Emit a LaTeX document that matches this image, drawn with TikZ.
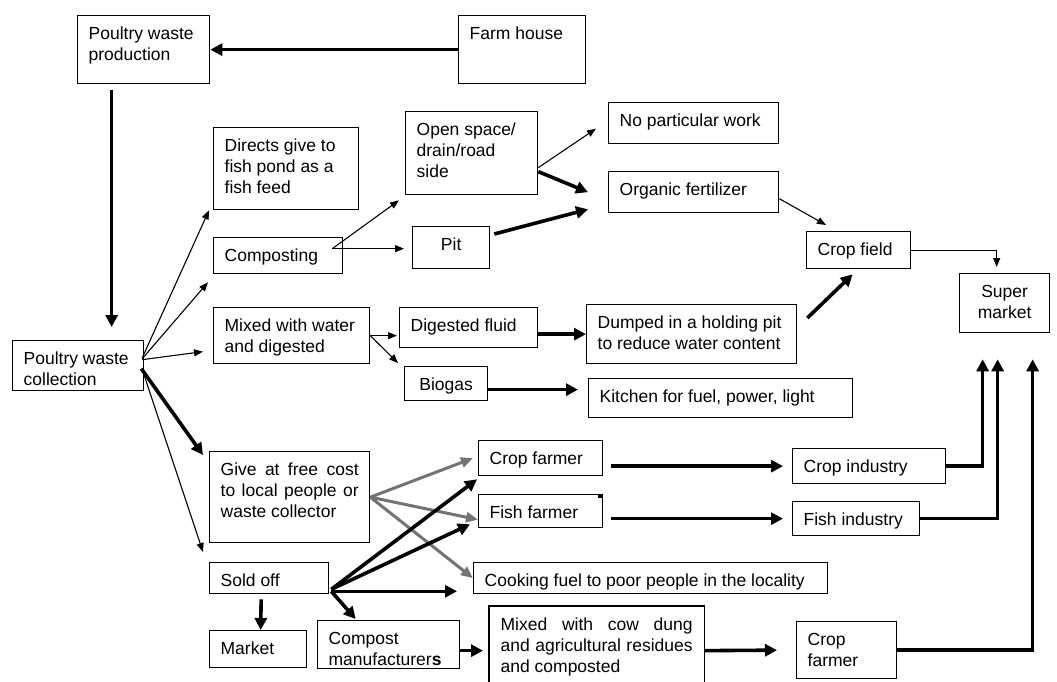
\documentclass[tikz,border=0pt]{standalone}
\usepackage{fontspec}
\setmainfont{Liberation Sans}
\usetikzlibrary{arrows.meta}
\newcommand{\bt}[3]{\parbox[t][#2][t]{#1}{\rule{0pt}{16.5pt}#3}}
\newcommand{\bc}[3]{\parbox[t][#2][t]{#1}{\centering\rule{0pt}{16.5pt}#3}}
\begin{document}
\begin{tikzpicture}[x=1pt,y=-1pt,
  box/.style={draw,line width=1.3pt,anchor=north west,inner xsep=11pt,inner ysep=7pt,font=\fontsize{17.5}{21}\selectfont},
  arr/.style={line width=1.1pt,-{Triangle[length=9pt,width=7pt]}},
  barr/.style={line width=3.6pt,-{Triangle[length=12pt,width=12pt]}},
  garr/.style={line width=3pt,draw=black!55,-{Triangle[length=12pt,width=10pt]}}]
\useasboundingbox (0,0) rectangle (1057,682);
% boxes
\node[box] (pwp) at (77,15) {\bt{110pt}{54pt}{Poultry waste\\production}};
\node[box] (farm) at (458,15) {\bt{105pt}{54pt}{Farm house}};
\node[box] (pwc) at (12,340) {\bt{109pt}{36pt}{Poultry waste\\collection}};
\node[box] (directs) at (213,127) {\bt{123pt}{68pt}{Directs give to\\fish pond as a\\fish feed}};
\node[box] (compost) at (213,237) {\bt{107pt}{22pt}{Composting}};
\node[box] (mixed) at (213,307) {\bt{134pt}{42pt}{Mixed with water\\and digested}};
\node[box] (give) at (209,451) {\bt{138pt}{77pt}{Give at free cost\linebreak to local people or\linebreak waste collector}};
\node[box] (sold) at (209,562) {\bt{97pt}{17pt}{Sold off}};
\node[box] (market) at (209,630) {\bt{75pt}{23pt}{Market}};
\node[box] (compman) at (317,620) {\bt{120pt}{34pt}{Compost\\manufacturer\textbf{s}}};
\node[box] (open) at (405,111) {\bt{110pt}{69pt}{Open space/\\drain/road\\side}};
\node[box] (pit) at (412,226) {\bc{55pt}{28pt}{Pit}};
\node[box] (digfluid) at (399,307) {\bt{116pt}{26pt}{Digested fluid}};
\node[box] (biogas) at (404,366) {\bc{61pt}{20pt}{Biogas}};
\node[box] (nowork) at (608,102) {\bt{148pt}{27pt}{No particular work}};
\node[box] (organic) at (608,171) {\bt{148pt}{27pt}{Organic fertilizer}};
\node[box] (cropfield) at (806,231) {\bt{82pt}{23pt}{Crop field}};
\node[box] (super) at (959,273) {\bc{68pt}{45pt}{Super\\market}};
\node[box] (dumped) at (586,304) {\bt{188pt}{45pt}{Dumped in a holding pit\\to reduce water content}};
\node[box] (kitchen) at (588,378) {\bt{242pt}{25pt}{Kitchen for fuel, power, light}};
\node[box] (cropfarmer) at (478,440) {\bt{102pt}{21pt}{Crop farmer}};
\node[box] (fishfarmer) at (478,494) {\bt{102pt}{19pt}{Fish farmer}};
\node[box] (cooking) at (473,562) {\bt{332pt}{17pt}{Cooking fuel to poor people in the locality}};
\node[box,draw=none] (cowdung) at (489,606) {\bt{192pt}{74pt}{Mixed with cow dung\linebreak and agricultural residues\linebreak and composted}};
\draw[line width=1.3pt] (cowdung.south west)--(cowdung.north west)--(cowdung.north east)--(cowdung.south east);
\node[box] (cropind) at (792,448) {\bt{131pt}{21pt}{Crop industry}};
\node[box] (fishind) at (792,501) {\bt{105pt}{20pt}{Fish industry}};
\node[box] (cropfarmer2) at (796,621) {\bt{78pt}{43pt}{Crop\\farmer}};
\fill (598,494) rectangle (602,498);
% top
\draw[barr] (farm.west)--(pwp.east);
\draw[barr] ([xshift=-32pt,yshift=-6pt]pwp.south)--([xshift=33.5pt,yshift=13pt]pwc.north);
% from collection
\draw[arr] ([xshift=-2pt,yshift=8pt]pwc.east)--([xshift=-4pt]directs.south west);
\draw[arr] ([xshift=-2pt,yshift=7pt]pwc.east)--([xshift=-5pt,yshift=-8pt]compost.south west);
\draw[arr] ([xshift=-2pt,yshift=6pt]pwc.east)--([xshift=-10pt,yshift=-16pt]mixed.west);
\draw[barr] ([xshift=-3pt,yshift=-3pt]pwc.east)--([xshift=-6pt,yshift=-4pt]give.north west);
\draw[arr] ([xshift=-1pt,yshift=-7pt]pwc.east)--([xshift=-6pt,yshift=10pt]sold.north west);
% composting
\draw[arr] ([xshift=-11pt,yshift=7pt]compost.east)--([xshift=-6pt,yshift=-5pt]open.south west);
\draw[arr] ([xshift=-11pt,yshift=7pt]compost.east)--([xshift=-8pt,yshift=7pt]compost.east-|pit.west);
\draw[arr] ([yshift=-14.5pt]open.east)--([xshift=-12pt,yshift=-5.5pt]nowork.west);
\draw[barr] ([yshift=-18.5pt]open.east)--([xshift=-20pt]organic.west);
\draw[barr] ([xshift=4pt,yshift=-8pt]pit.north east)--([xshift=-20pt,yshift=4pt]organic.south west);
\draw[arr] ([yshift=-6.5pt]organic.east)--([xshift=20pt,yshift=6pt]cropfield.north west);
\draw[arr] (cropfield.east)-|([xshift=-8pt,yshift=6pt]super.north);
\draw[barr] ([xshift=10pt,yshift=-14pt]dumped.north east)--([xshift=-6pt,yshift=-5pt]cropfield.south);
% digestion
\draw[arr] (mixed.east)--([xshift=-2pt]mixed.east-|digfluid.west);
\draw[arr] (mixed.east)--([xshift=-6pt,yshift=3pt]biogas.north west);
\draw[barr] (digfluid.east|-dumped.west)--(dumped.west);
\draw[barr] ([yshift=-6pt]biogas.east)--([xshift=-10pt,yshift=-6pt]biogas.east-|kitchen.west);
% free cost
\draw[garr] (give.east)--([xshift=-5pt]cropfarmer.west);
\draw[garr] (give.east)--([yshift=-8.5pt]fishfarmer.west);
\draw[garr] (give.east)--(cooking.west);
% sold off
\draw[barr] ([xshift=2pt,yshift=5pt]sold.south east)--([xshift=-1pt,yshift=-3pt]cropfarmer.south west);
\draw[barr] ([xshift=2pt,yshift=5pt]sold.south east)--([xshift=-8pt,yshift=4pt]fishfarmer.south west);
\draw[barr] ([xshift=2pt,yshift=3pt]sold.south east)--([xshift=-16pt,yshift=3pt]cooking.south west);
\draw[barr] ([xshift=2pt,yshift=3pt]sold.south east)--([xshift=-33pt,yshift=1pt]compman.north);
\draw[barr] ([xshift=-8pt,yshift=-5pt]sold.south)--([xshift=2.5pt]market.north);
\draw[barr] (compman.east|-cowdung.west)--([xshift=-6pt]cowdung.west);
\draw[barr] (cowdung.east)--([xshift=-19pt]cropfarmer2.west);
% to industry and market
\draw[barr] ([xshift=8pt]cropfarmer.east|-cropind.west)--([xshift=-9pt]cropind.west);
\draw[barr] ([xshift=8pt]fishfarmer.east|-fishind.west)--([xshift=-9pt]fishind.west);
\draw[barr] (cropind.east)-|([xshift=-22pt,yshift=-26pt]super.south);
\draw[barr] (fishind.east)-|([xshift=-7pt,yshift=-26pt]super.south);
\draw[barr] (cropfarmer2.east)-|([xshift=28pt,yshift=-26pt]super.south);
\end{tikzpicture}
\end{document}
